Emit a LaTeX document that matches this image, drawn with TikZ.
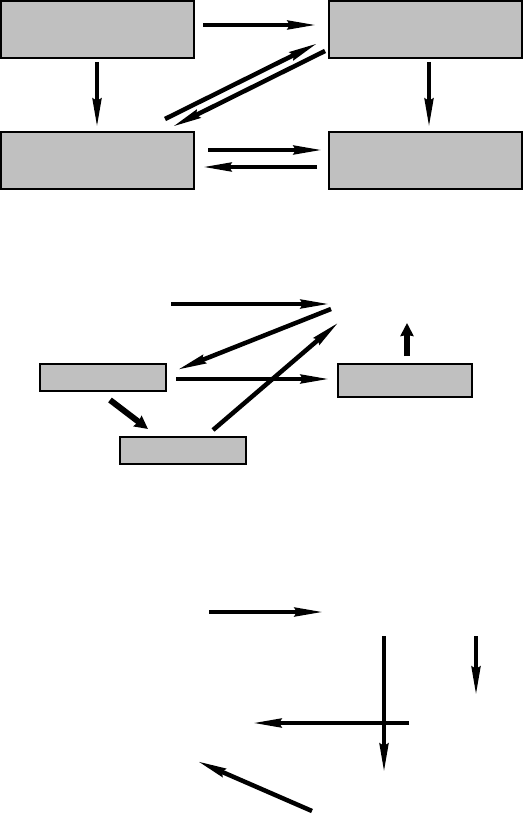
\documentclass[tikz,border=0pt]{standalone}
\usepackage{tikz}
\usetikzlibrary{arrows.meta}

\definecolor{boxgray}{RGB}{192,192,192}
\tikzset{
  box/.style={draw, line width=0.6pt, fill=boxgray, inner sep=0pt, outer sep=0pt},
  arr/.style={line width=0.09cm, -{Stealth[length=0.58cm, width=0.17cm, inset=0.04cm]}},
  stub/.style={line width=0.12cm, -{Stealth[length=0.26cm, width=0.26cm, inset=0.02cm]}}
}

\begin{document}
\begin{tikzpicture}[x=0.02cm, y=-0.02cm]
\useasboundingbox (0,0) rectangle (524,814);

% top group
\node[box, minimum width=3.86cm, minimum height=1.14cm] (tl) at (97.5,29.5) {};
\node[box, minimum width=3.86cm, minimum height=1.14cm] (tr) at (425.5,29.5) {};
\node[box, minimum width=3.86cm, minimum height=1.14cm] (bl) at (97.5,160.5) {};
\node[box, minimum width=3.86cm, minimum height=1.14cm] (br) at (425.5,160.5) {};

\coordinate (t1) at (203,25);  \coordinate (t2) at (317,25);
\coordinate (t3) at (97,62);   \coordinate (t4) at (97,128);
\coordinate (t5) at (429,62);  \coordinate (t6) at (429,128);
\coordinate (t7) at (208,150); \coordinate (t8) at (323,150);
\coordinate (t9) at (317,167); \coordinate (t10) at (202,167);
\coordinate (t11) at (165,119); \coordinate (t12) at (318,43);
\coordinate (t13) at (325,51);  \coordinate (t14) at (172,127);

\draw[arr] (t1) -- (t2);
\draw[arr] (t3) -- (t4);
\draw[arr] (t5) -- (t6);
\draw[arr] (t7) -- (t8);
\draw[arr] (t9) -- (t10);
\draw[arr] (t11) -- (t12);
\draw[arr] (t13) -- (t14);

% middle group
\node[box, minimum width=2.52cm, minimum height=0.54cm] (ml) at (103,377.5) {};
\node[box, minimum width=2.52cm, minimum height=0.54cm] (mb) at (183,450.5) {};
\node[box, minimum width=2.68cm, minimum height=0.66cm] (mr) at (405,380.5) {};

\coordinate (m1) at (171,304); \coordinate (m2) at (330,304);
\coordinate (m3) at (331,309); \coordinate (m4) at (177,370);
\coordinate (m5) at (176,379); \coordinate (m6) at (330,379);
\coordinate (m7) at (213,430); \coordinate (m8) at (339,322);
\coordinate (m9) at (110,400); \coordinate (m10) at (148,429);
\coordinate (m11) at (407,356); \coordinate (m12) at (407,323);

\draw[arr] (m1) -- (m2);
\draw[arr] (m3) -- (m4);
\draw[arr] (m5) -- (m6);
\draw[arr] (m7) -- (m8);
\draw[stub] (m9) -- (m10);
\draw[stub] (m11) -- (m12);

% bottom group
\coordinate (b1) at (209,612); \coordinate (b2) at (324,612);
\coordinate (b3) at (384,636); \coordinate (b4) at (384,773);
\coordinate (b5) at (476,636); \coordinate (b6) at (476,696);
\coordinate (b7) at (409,723); \coordinate (b8) at (252,723);
\coordinate (b9) at (312,811); \coordinate (b10) at (197,761);

\draw[arr] (b1) -- (b2);
\draw[arr] (b3) -- (b4);
\draw[arr] (b5) -- (b6);
\draw[arr] (b7) -- (b8);
\draw[arr] (b9) -- (b10);
\end{tikzpicture}
\end{document}
